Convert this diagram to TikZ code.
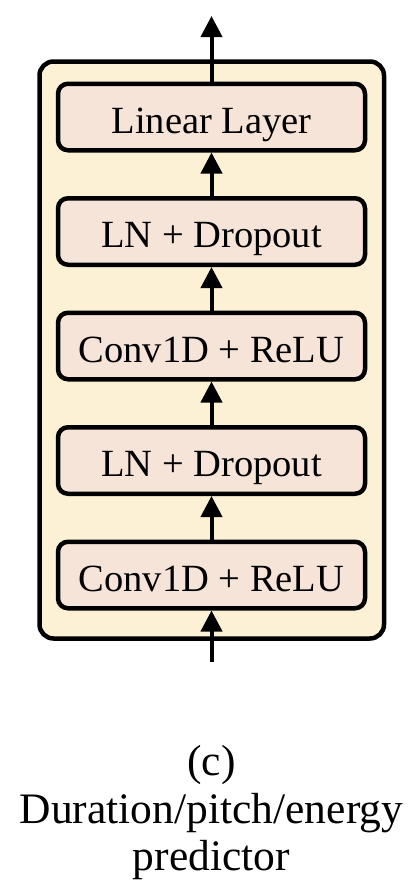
\documentclass[tikz,border=0pt]{standalone}
\usepackage{fontspec}
\setmainfont{Liberation Serif}
\usetikzlibrary{arrows.meta}
\definecolor{outerfill}{HTML}{FCF1D4}
\definecolor{innerfill}{HTML}{F7E4D8}
\begin{document}
\begin{tikzpicture}[x=1pt,y=-1pt,
  framebox/.style={draw=black, line width=4.5pt, fill=outerfill, rounded corners=14pt, inner sep=0pt},
  layerbox/.style={draw=black, line width=4.5pt, fill=innerfill, rounded corners=10pt,
    minimum width=307pt, minimum height=66.5pt, inner sep=0pt,
    text height=32pt, text depth=0pt, font=\fontsize{38.5}{46}\selectfont},
  flow/.style={-{Triangle[length=21pt,width=21pt]}, line width=4pt},
  captext/.style={font=\fontsize{43.5}{47.5}\selectfont, anchor=base}]
\useasboundingbox (0,0) rectangle (420,894);
\node[framebox, minimum width=344.5pt, minimum height=577pt] (frame) at (211.75,350) {};
\node[layerbox] (l1) at (211.5,117) {Linear Layer};
\node[layerbox] (l2) at (211.5,231.5) {LN + Dropout};
\node[layerbox] (l3) at (211.5,346) {Conv1D + ReLU};
\node[layerbox] (l4) at (211.5,460.5) {LN + Dropout};
\node[layerbox] (l5) at (211.5,575) {Conv1D + ReLU};
\coordinate (out) at (211.5,16);
\coordinate (in) at (211.5,662);
\draw[flow] (l1.north) -- (out);
\draw[flow] (l2.north) -- (l1.south);
\draw[flow] (l3.north) -- (l2.south);
\draw[flow] (l4.north) -- (l3.south);
\draw[flow] (l5.north) -- (l4.south);
\draw[flow] (in) -- (l5.south);
\node[captext] (cap1) at (211.5,775) {(c)};
\node[captext] (cap2) at (211.5,823) {Duration/pitch/energy};
\node[captext] (cap3) at (211.5,870) {predictor};
\end{tikzpicture}
\end{document}
